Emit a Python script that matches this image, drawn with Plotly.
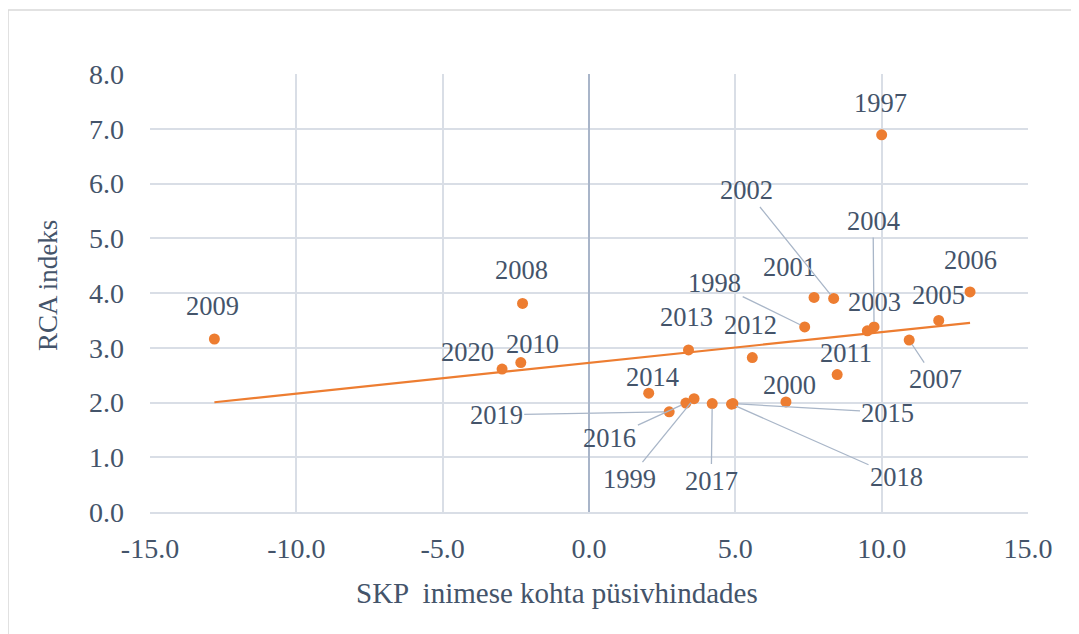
import plotly.graph_objects as go

# ---- data ----
years = ["1997", "1998", "1999", "2000", "2001", "2002", "2003", "2004", "2005", "2006",
         "2007", "2008", "2009", "2010", "2011", "2012", "2013", "2014", "2015", "2016",
         "2017", "2018", "2019", "2020"]
gdp_growth = [10.0, 7.37, 3.59, 6.73, 7.69, 8.36, 9.51, 9.74, 11.95, 13.02,
              10.94, -2.27, -12.80, -2.33, 8.48, 5.58, 3.40, 2.04, 4.92, 3.31,
              4.21, 4.87, 2.74, -2.97]
rca_index = [6.89, 3.38, 2.07, 2.01, 3.92, 3.90, 3.31, 3.38, 3.50, 4.02,
             3.14, 3.81, 3.16, 2.73, 2.51, 2.82, 2.96, 2.17, 1.98, 1.99,
             1.98, 1.97, 1.83, 2.61]
trend_x = [-12.80, 13.02]
trend_y = [2.005, 3.455]

x_tick_vals = [-15, -10, -5, 0, 5, 10, 15]
x_tick_labels = ["-15.0", "-10.0", "-5.0", "0.0", "5.0", "10.0", "15.0"]
y_tick_vals = [0, 1, 2, 3, 4, 5, 6, 7, 8]
y_tick_labels = ["0.0", "1.0", "2.0", "3.0", "4.0", "5.0", "6.0", "7.0", "8.0"]

x_title = "SKP  inimese kohta püsivhindades"
y_title = "RCA indeks"

# ---- label placement (pixel offsets of label centre from its point; leader flag) ----
label_pos = {
    "1997": (-1, -32, False), "1998": (-90, -44, True), "1999": (-65, 80, True),
    "2000": (4, -17, False), "2001": (-25, -30, False), "2002": (-87, -108, True),
    "2003": (7, -29, False), "2004": (-1, -106, True), "2005": (0, -25, False),
    "2006": (0, -32, False), "2007": (26, 39, True), "2008": (-1, -33, False),
    "2009": (-2, -33, False), "2010": (12, -19, False), "2011": (9, -22, False),
    "2012": (-2, -33, False), "2013": (-2, -33, False), "2014": (4, -16, False),
    "2015": (155, 9, True), "2016": (-76, 35, True), "2017": (-1, 77, True),
    "2018": (165, 73, True), "2019": (-173, 3, True), "2020": (-35, -17, False),
}

FONT = "'Liberation Serif', 'Times New Roman', Times, 'DejaVu Serif', serif"
TEXT = "#44546A"
ORANGE = "#ED7D31"
GRID = "#D9DEE6"
LEADER = "#A9B6C8"

fig = go.Figure()
fig.add_trace(go.Scatter(x=trend_x, y=trend_y, mode="lines",
                         line=dict(color=ORANGE, width=2.2), hoverinfo="skip",
                         showlegend=False))
fig.add_trace(go.Scatter(x=gdp_growth, y=rca_index, mode="markers",
                         marker=dict(color=ORANGE, size=11, line=dict(width=0)),
                         text=years, showlegend=False))

annotations = []
for yr, gx, ry in zip(years, gdp_growth, rca_index):
    dx, dy, leader = label_pos[yr]
    if leader:
        annotations.append(dict(x=gx, y=ry, xref="x", yref="y", text=yr,
                                showarrow=True, ax=dx, ay=dy, arrowhead=0,
                                arrowwidth=1.3, arrowcolor=LEADER, standoff=5,
                                font=dict(family=FONT, size=26.5, color=TEXT)))
    else:
        annotations.append(dict(x=gx, y=ry, xref="x", yref="y", text=yr,
                                showarrow=False, xshift=dx, yshift=-dy,
                                font=dict(family=FONT, size=26.5, color=TEXT)))

annotations.append(dict(x=0.4636, y=-0.185, xref="paper", yref="paper", text=x_title,
                        xanchor="center", yanchor="middle",
                        showarrow=False, font=dict(family=FONT, size=29, color=TEXT)))
annotations.append(dict(x=-0.1162, y=0.518, xref="paper", yref="paper", text=y_title,
                        xanchor="center", yanchor="middle",
                        showarrow=False, textangle=-90,
                        font=dict(family=FONT, size=27, color=TEXT)))

shapes = [
    dict(type="line", xref="paper", yref="paper", x0=-0.1617, x1=-0.1617, y0=1.146, y1=-0.35,
         line=dict(color="#D9D9D9", width=1.5)),
    dict(type="line", xref="paper", yref="paper", x0=-0.1617, x1=1.2, y0=1.146, y1=1.146,
         line=dict(color="#D9D9D9", width=1.5)),
]

fig.update_layout(
    width=1079, height=634,
    margin=dict(l=142, r=59, t=66, b=130),
    paper_bgcolor="white", plot_bgcolor="white",
    font=dict(family=FONT, size=26, color=TEXT),
    annotations=annotations, shapes=shapes,
    xaxis=dict(range=[-15, 15], tickvals=x_tick_vals, ticktext=x_tick_labels,
               showgrid=True, gridcolor=GRID, gridwidth=1.5,
               zeroline=True, zerolinecolor="#A9B5C9", zerolinewidth=1.5,
               showline=True, linecolor=GRID, linewidth=2,
               ticks="", ticklabelstandoff=10,
               tickfont=dict(family=FONT, size=28, color=TEXT)),
    yaxis=dict(range=[0, 8], tickvals=y_tick_vals, ticktext=y_tick_labels,
               showgrid=True, gridcolor=GRID, gridwidth=1.5,
               zeroline=False, showline=False,
               ticks="", ticklabelstandoff=25,
               tickfont=dict(family=FONT, size=28, color=TEXT)),
)

fig.write_html("out.html")
